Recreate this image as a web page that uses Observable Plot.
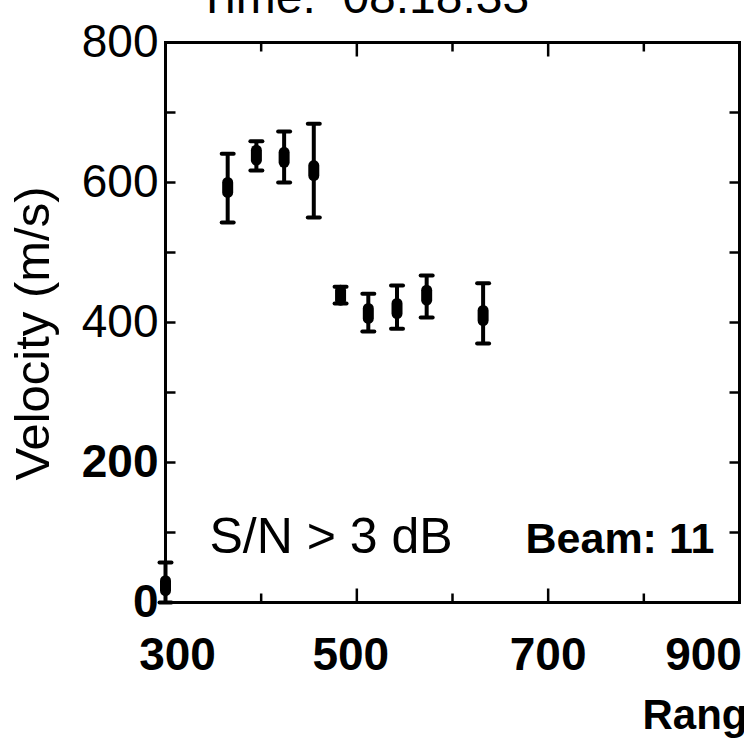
<!DOCTYPE html>
<html>
<head>
<meta charset="utf-8">
<script src="https://cdn.jsdelivr.net/npm/d3@7"></script>
<script src="https://cdn.jsdelivr.net/npm/@observablehq/plot@0.6"></script>
<style>
  html, body { margin: 0; padding: 0; background: #fff; overflow: hidden; }
</style>
</head>
<body>
<div id="chart"></div>
<script>
// ---- data ----
const ranges      = [300, 365, 395, 424, 455, 483, 512, 542, 573, 632];   // km
const velocities  = [24, 593, 639, 636, 617, 439, 413, 420, 439, 410];    // m/s
const lowerBounds = [0, 543, 617, 600, 550, 427, 387, 391, 407, 370];
const upperBounds = [57, 641, 659, 673, 684, 451, 441, 453, 467, 456];

const xTickLabels = [300, 500, 700, 900];
const yTickLabels = [0, 200, 400, 600, 800];
const xMajorTicks = [500, 700];
const xMinorTicks = [400, 600, 800];
const yTicks      = [100, 200, 300, 400, 500, 600, 700];

const titleText  = "Time:  08:18:33";
const xLabelText = "Range (km)";
const yLabelText = "Velocity (m/s)";
const noteText   = "S/N > 3 dB";
const beamText   = "Beam: 11";

const points = ranges.map((r, i) => ({range: r, v: velocities[i], lo: lowerBounds[i], hi: upperBounds[i]}));

// ---- custom symbols ----
const seg = (dx, dy) => ({draw(ctx) { ctx.moveTo(0, 0); ctx.lineTo(dx, dy); }});
const capSym = {draw(ctx) { ctx.moveTo(-6, 0); ctx.lineTo(6, 0); }};
const blobSym = {draw(ctx) {
  const w = 5.5, h = 5;
  ctx.moveTo(-w, -h);
  ctx.arc(0, -h, w, Math.PI, 0);
  ctx.lineTo(w, h);
  ctx.arc(0, h, w, 0, Math.PI);
  ctx.closePath();
}};

const font = "'Liberation Sans', Arial, Helvetica, sans-serif";
const tickStyle = {stroke: "black", strokeWidth: 2.5, fill: "none"};

const chart = Plot.plot({
  width: 744,
  height: 742,
  marginLeft: 165,
  marginRight: 5,
  marginTop: 42,
  marginBottom: 140,
  style: {background: "white", fontFamily: font, color: "black", overflow: "visible"},
  x: {domain: [300, 900]},
  y: {domain: [0, 800]},
  marks: [
    Plot.frame({stroke: "black", strokeWidth: 3}),
    // inward ticks
    Plot.dot(xMajorTicks, {x: d => d, frameAnchor: "bottom", symbol: seg(0, -14), ...tickStyle}),
    Plot.dot(xMinorTicks, {x: d => d, frameAnchor: "bottom", symbol: seg(0, -9), ...tickStyle}),
    Plot.dot(xMajorTicks, {x: d => d, frameAnchor: "top", symbol: seg(0, 14), ...tickStyle}),
    Plot.dot(xMinorTicks, {x: d => d, frameAnchor: "top", symbol: seg(0, 9), ...tickStyle}),
    Plot.dot(yTicks, {y: d => d, frameAnchor: "left", symbol: seg(10, 0), ...tickStyle}),
    Plot.dot(yTicks, {y: d => d, frameAnchor: "right", symbol: seg(-10, 0), ...tickStyle}),
    // axes labels
    Plot.axisX({ticks: xTickLabels, tickSize: 0, tickPadding: 35, fontSize: 46, fontWeight: "bold", label: null, tickFormat: d => String(d)}),
    Plot.axisY({ticks: yTickLabels, tickSize: 0, tickPadding: 7, fontSize: 46, label: null, tickFormat: d => String(d)}),
    // error bars
    Plot.ruleX(points, {x: "range", y1: "lo", y2: "hi", stroke: "black", strokeWidth: 4}),
    Plot.dot(points, {x: "range", y: "hi", symbol: capSym, stroke: "black", strokeWidth: 4, strokeLinecap: "round", fill: "none"}),
    Plot.dot(points, {x: "range", y: "lo", symbol: capSym, stroke: "black", strokeWidth: 4, strokeLinecap: "round", fill: "none"}),
    Plot.dot(points, {x: "range", y: "v", symbol: blobSym, fill: "black", stroke: "none"}),
    // annotations
    Plot.text([titleText], {frameAnchor: "top-left", textAnchor: "start", lineAnchor: "bottom", dx: 32, dy: -30, fontSize: 48}),
    Plot.text([noteText], {frameAnchor: "bottom-left", textAnchor: "start", lineAnchor: "bottom", dx: 44, dy: -50, fontSize: 50}),
    Plot.text([beamText], {frameAnchor: "bottom-left", textAnchor: "start", lineAnchor: "bottom", dx: 360, dy: -50, fontSize: 43, fontWeight: "bold"}),
    Plot.text([xLabelText], {frameAnchor: "bottom-left", textAnchor: "start", lineAnchor: "bottom", dx: 477, dy: 126, fontSize: 42, fontWeight: "bold"}),
    Plot.text([yLabelText], {frameAnchor: "left", textAnchor: "middle", lineAnchor: "bottom", rotate: -90, dx: -117, dy: 11, fontSize: 49})
  ]
});

document.getElementById("chart").appendChild(chart);

// small per-label tweaks to match the scanned layout
const xLabelShift = {"300": 12, "500": -6, "900": -36};
const yBold = new Set(["0", "200"]);
d3.select(chart).selectAll("g[aria-label='x-axis tick label'] text").each(function() {
  const off = xLabelShift[this.textContent];
  if (off) this.setAttribute("transform", (this.getAttribute("transform") || "") + ` translate(${off},0)`);
});
d3.select(chart).selectAll("g[aria-label='y-axis tick label'] text").each(function() {
  if (yBold.has(this.textContent)) this.setAttribute("font-weight", "bold");
});
</script>
</body>
</html>
